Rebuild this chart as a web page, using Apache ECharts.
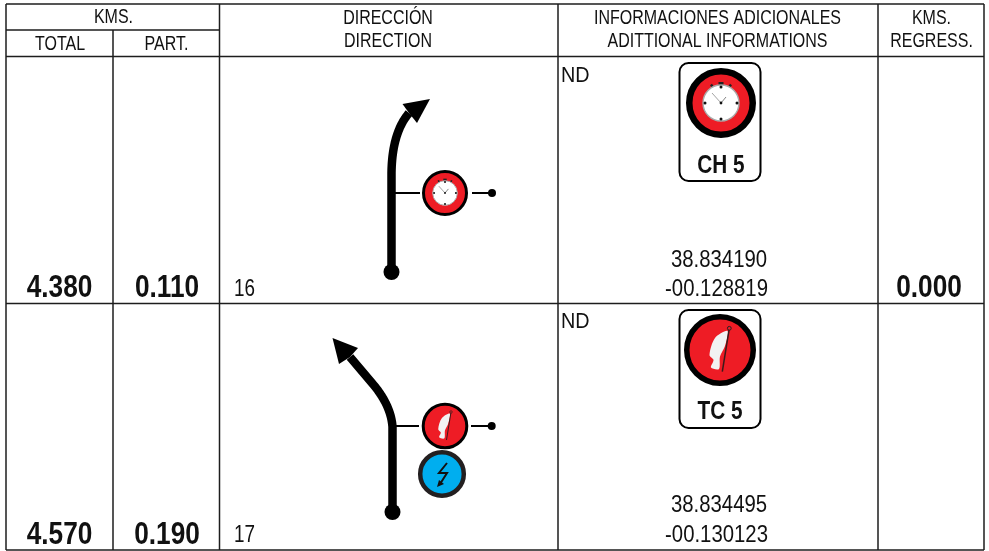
<!DOCTYPE html>
<html><head><meta charset="utf-8">
<style>html,body{margin:0;padding:0;background:#fff}#c{width:989px;height:551px}</style>
<script src="https://cdn.jsdelivr.net/npm/echarts@6/dist/echarts.min.js"></script>
</head><body><div id="c"></div>
<script>
// ---- values read from the roadbook ----
const headerTop = ['KMS.', 'DIRECCIÓN', 'INFORMACIONES ADICIONALES', 'KMS.'];
const headerBottom = ['TOTAL', 'PART.', 'DIRECTION', 'ADITTIONAL INFORMATIONS', 'REGRESS.'];
const totalKms = ['4.380', '4.570'];
const partialKms = ['0.110', '0.190'];
const regressKms = ['0.000', ''];
const stepNumbers = ['16', '17'];
const notes = ['ND', 'ND'];
const signLabels = ['CH 5', 'TC 5'];
const latitudes = ['38.834190', '38.834495'];
const longitudes = ['-00.128819', '-00.130123'];
// route centre lines: start, end of straight, curve control, curve end, neck of arrow
const routeOne = [[391.5,272],[391.5,173],[392,133],[409,113]];
const routeTwo = [[392.5,512],[392.5,427],[391,405],[372,383],[350,357]];
const arrowOne = [[430,99],[402.5,104],[417,123]];
const arrowTwo = [[332.5,338],[358,348],[339,364]];

// ---- layout ----
const colX = [6,113,219.5,558,878,984];
const rowY = [4,30,56.5,303.5,550];
const FONT = '"Liberation Sans",Arial,sans-serif';
const INK = '#1d1d1d';

function quad(a,c,b,n){const o=[];for(let i=0;i<=n;i++){const t=i/n,u=1-t;o.push([u*u*a[0]+2*u*t*c[0]+t*t*b[0],u*u*a[1]+2*u*t*c[1]+t*t*b[1]]);}return o;}
function routePts(r){return [r[0],...quad(r[1],r[2],r[3],24),...r.slice(4)];}

function render(params, api){
  const P=(x,y)=>api.coord([x,y]);
  const kids=[];
  const line=(x1,y1,x2,y2,w,col)=>{const a=P(x1,y1),b=P(x2,y2);kids.push({type:'line',shape:{x1:a[0],y1:a[1],x2:b[0],y2:b[1]},style:{stroke:col||INK,lineWidth:w||1.5}});};
  const circ=(x,y,r,fill,stroke,w)=>{const a=P(x,y);kids.push({type:'circle',shape:{cx:a[0],cy:a[1],r},style:{fill:fill||'none',stroke:stroke||null,lineWidth:w||0}});};
  const text=(s,x,y,size,o)=>{o=o||{};const a=P(x,y);kids.push({type:'text',x:a[0],y:a[1],scaleX:o.sx||0.82,style:{text:s,fontFamily:FONT,fontSize:size,fontWeight:o.bold?'bold':'normal',fill:'#111',align:o.align||'center',verticalAlign:'middle'}});};
  const poly=(pts,fill)=>kids.push({type:'polygon',shape:{points:pts.map(p=>P(p[0],p[1]))},style:{fill}});

  // table grid
  line(colX[0],rowY[0],colX[5],rowY[0]);
  line(colX[0],rowY[1],colX[2],rowY[1]);
  line(colX[0],rowY[2],colX[5],rowY[2]);
  line(colX[0],rowY[3],colX[5],rowY[3]);
  line(colX[0],rowY[4],colX[5],rowY[4]);
  [0,2,3,4,5].forEach(i=>line(colX[i],rowY[0],colX[i],rowY[4]));
  line(colX[1],rowY[1],colX[1],rowY[4]);

  // header
  const hs=19.5;
  text(headerTop[0],113.5,17.5,hs); text(headerTop[1],388,19,hs); text(headerTop[2],717.5,19,hs); text(headerTop[3],931.5,19,hs);
  text(headerBottom[0],60,44.5,hs); text(headerBottom[1],166.5,44.5,hs); text(headerBottom[2],388,42,hs); text(headerBottom[3],717.5,42,hs); text(headerBottom[4],931.5,42,hs);

  // rows
  const bigY=[288.5,535.5], numY=[290,535.5], ndY=[76,321.5], latY=[260,505.5], lonY=[289,535.5];
  for(let i=0;i<2;i++){
    text(totalKms[i],59.5,bigY[i],30.5,{bold:true,sx:0.86});
    text(partialKms[i],167,bigY[i],30.5,{bold:true,sx:0.86});
    if(regressKms[i]) text(regressKms[i],929,bigY[i],30.5,{bold:true,sx:0.86});
    text(stepNumbers[i],234,numY[i],23,{align:'left'});
    text(notes[i],561,ndY[i],22.5,{align:'left',sx:0.88});
    text(latitudes[i],719,latY[i],24.5,{sx:0.83});
    text(longitudes[i],716.5,lonY[i],24.5,{sx:0.83});
  }

  // routes
  [[routeOne,arrowOne],[routeTwo,arrowTwo]].forEach(([r,a])=>{
    kids.push({type:'polyline',shape:{points:routePts(r).map(p=>P(p[0],p[1]))},style:{stroke:'#000',lineWidth:8.5,fill:'none',lineJoin:'round'}});
    const n=r[r.length-1];
    poly([a[0],a[1],n,a[2]],'#000');
    circ(r[0][0],r[0][1],8,'#000');
  });

  // side branches
  line(395,193,420,193,2,'#000'); line(472,193,491,193,2,'#000'); circ(492,193,4,'#000');
  line(396,426,419,426,2,'#000'); line(471,426,491,426,2,'#000'); circ(491.7,426,4,'#000');

  // symbols: clock(ring outer radius, ring width, white radius)
  const clock=(cx,cy,outer,ring,face)=>{
    const k=face/18;
    circ(cx,cy,outer-ring/2,'#ee1c25','#000',ring);
    line(cx-10*k,cy-18.5*k,cx-7.5*k,cy-15*k,2.4*k,'#222');
    line(cx+10*k,cy-18.5*k,cx+7.5*k,cy-15*k,2.4*k,'#222');
    line(cx-2.5*k,cy-19.5*k,cx+2.5*k,cy-19.5*k,3*k,'#222');
    circ(cx,cy,face,'#fff','#aaa',1.4*k);
    [[0,-16],[16,0],[0,16],[-16,0]].forEach(d=>circ(cx+d[0]*k,cy+d[1]*k,1.5*k,'#111'));
    line(cx,cy,cx-9*k,cy-10*k,0.9,'#999'); line(cx,cy,cx+5*k,cy-6*k,0.9,'#777');
    circ(cx,cy,1.4*k,'#111');
  };
  const flag=(cx,cy,outer,ring)=>{
    const k=outer/36;
    circ(cx,cy,outer-ring/2,'#ee1c25','#000',ring);
    kids.push({type:'polygon',shape:{smooth:0.3,points:[[7.5,-19],[-5,-12],[-10.5,5],[-6.5,10],[-9,17.5],[-1,19],[0,6.5],[5,-4]].map(d=>P(cx+d[0]*k,cy+d[1]*k))},style:{fill:'#f2f2f2'}});
    line(cx+9.3*k,cy-21.7*k,cx+2.3*k,cy+21.7*k,1.5*k,'#3a1a1a');
    circ(cx+9.3*k,cy-21.7*k,1.9*k,'#ee1c25','#222',1*k);
  };
  clock(445,193,23,3,12.3);
  flag(445,426,23.3,3);
  circ(442,474,21.8,'#00aeef','#231f20',4.5);
  kids.push({type:'polyline',shape:{points:[[447,463],[439,473],[447,473],[440,484]].map(p=>P(p[0],p[1]))},style:{stroke:'#111',lineWidth:2,fill:'none'}});
  poly([[437,487],[439,480],[444,484]],'#111');

  // signs
  [[63,181,721,103,166.5],[310,428,720,350,412.5]].forEach((s,i)=>{
    const tl=P(679.5,s[0]),br=P(760.5,s[1]);
    kids.push({type:'rect',shape:{x:tl[0],y:tl[1],width:br[0]-tl[0],height:br[1]-tl[1],r:9},style:{fill:'#fff',stroke:'#000',lineWidth:2}});
    text(signLabels[i],s[2],s[4],25,{bold:true,sx:0.83});
  });
  clock(721,103,35,6.5,18);
  flag(720,350,36,5.5);

  return {type:'group',children:kids};
}

const chart=echarts.init(document.getElementById('c'),null,{renderer:'canvas'});
chart.setOption({
  animation:false,
  backgroundColor:'#fff',
  grid:{left:0,right:0,top:0,bottom:0},
  xAxis:{type:'value',min:0,max:989,show:false},
  yAxis:{type:'value',min:0,max:551,inverse:true,show:false},
  series:[{type:'custom',coordinateSystem:'cartesian2d',data:[[0,0]],clip:false,silent:true,renderItem:render}]
});
</script></body></html>
